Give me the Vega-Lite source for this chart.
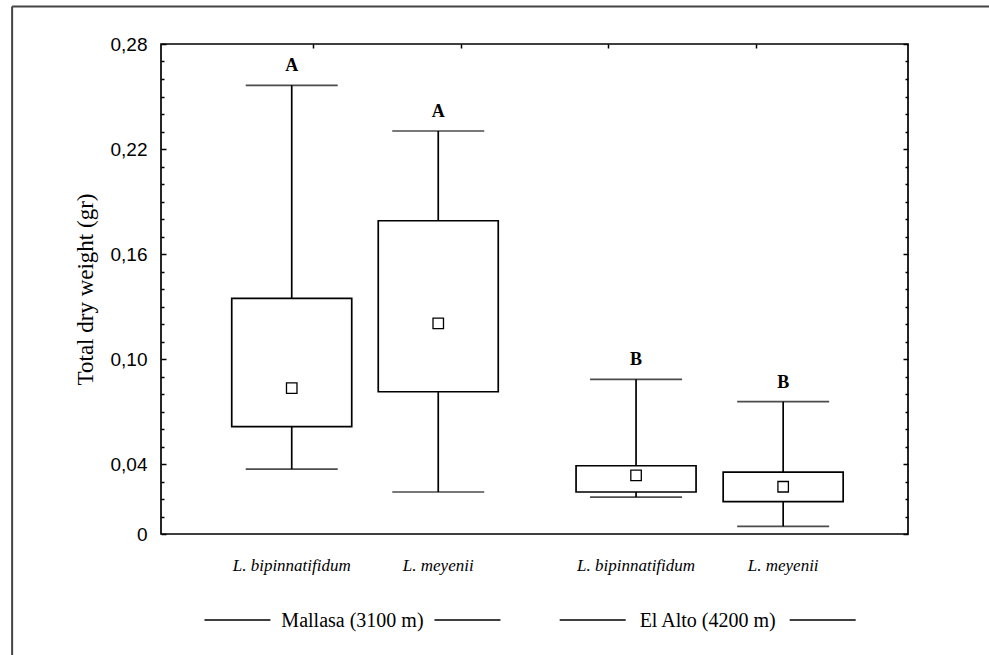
{
  "$schema": "https://vega.github.io/schema/vega-lite/v6.json",
  "width": 747,
  "height": 490,
  "autosize": "none",
  "padding": {"left": 161, "top": 44, "right": 81, "bottom": 121},
  "background": "white",
  "config": {
    "view": {"stroke": "black", "strokeWidth": 1.7},
    "axis": {"grid": false, "domain": false, "tickColor": "black", "tickWidth": 1.5}
  },
  "datasets": {
    "boxes": [
      {"site": "Mallasa (3100 m)", "species": "L. bipinnatifidum", "pos": 0.853, "min": 0.0371, "q1": 0.0613, "mid": 0.0834, "q3": 0.1347, "max": 0.2564, "sig": "A"},
      {"site": "Mallasa (3100 m)", "species": "L. meyenii", "pos": 1.847, "min": 0.024, "q1": 0.0813, "mid": 0.1204, "q3": 0.179, "max": 0.2303, "sig": "A"},
      {"site": "El Alto (4200 m)", "species": "L. bipinnatifidum", "pos": 3.189, "min": 0.0211, "q1": 0.024, "mid": 0.0335, "q3": 0.039, "max": 0.0884, "sig": "B"},
      {"site": "El Alto (4200 m)", "species": "L. meyenii", "pos": 4.187, "min": 0.0044, "q1": 0.0185, "mid": 0.027, "q3": 0.0354, "max": 0.0756, "sig": "B"}
    ],
    "groups": [
      {"site": "Mallasa (3100 m)", "gpos": 1.265},
      {"site": "El Alto (4200 m)", "gpos": 3.675}
    ]
  },
  "layer": [
    {
      "data": {"name": "boxes"},
      "mark": {"type": "rule", "color": "black", "strokeWidth": 1.7},
      "encoding": {
        "x": {"field": "pos", "type": "quantitative", "scale": {"domain": [0, 5], "nice": false, "zero": false},
          "axis": {"orient": "top", "values": [1, 2, 3, 4], "labels": false, "tickSize": -4, "title": null}},
        "y": {"field": "min", "type": "quantitative", "scale": {"domain": [0, 0.28], "nice": false},
          "axis": {
            "orient": "left",
            "values": [0,0.01,0.02,0.03,0.04,0.05,0.06,0.07,0.08,0.09,0.1,0.11,0.12,0.13,0.14,0.15,0.16,0.17,0.18,0.19,0.2,0.21,0.22,0.23,0.24,0.25,0.26,0.27,0.28],
            "labelExpr": "indexof([0,0.04,0.1,0.16,0.22,0.28], datum.value) >= 0 ? (datum.value == 0 ? '0' : replace(format(datum.value, '.2f'), '.', ',')) : ''",
            "tickSize": {"condition": {"test": "indexof([0,0.04,0.1,0.16,0.22,0.28], datum.value) >= 0", "value": -5}, "value": -3},
            "labelPadding": 19,
            "labelFont": "Liberation Sans",
            "labelFontSize": 19,
            "labelColor": "black",
            "title": "Total dry weight (gr)",
            "titleFont": "Liberation Serif",
            "titleFontSize": 23,
            "titleFontWeight": "normal",
            "titleColor": "black",
            "titlePadding": 13
          }},
        "y2": {"field": "max"}
      }
    },
    {
      "data": {"name": "boxes"},
      "mark": {"type": "tick", "orient": "horizontal", "color": "black", "size": 92, "thickness": 1.7},
      "encoding": {
        "x": {"field": "pos", "type": "quantitative", "axis": null},
        "y": {"field": "max", "type": "quantitative",
          "axis": {
            "orient": "right",
            "values": [0,0.01,0.02,0.03,0.04,0.05,0.06,0.07,0.08,0.09,0.1,0.11,0.12,0.13,0.14,0.15,0.16,0.17,0.18,0.19,0.2,0.21,0.22,0.23,0.24,0.25,0.26,0.27,0.28],
            "labels": false,
            "tickSize": {"condition": {"test": "indexof([0,0.04,0.1,0.16,0.22,0.28], datum.value) >= 0", "value": -5}, "value": -3},
            "title": null
          }}
      }
    },
    {
      "data": {"name": "boxes"},
      "mark": {"type": "tick", "orient": "horizontal", "color": "black", "size": 92, "thickness": 1.7},
      "encoding": {
        "x": {"field": "pos", "type": "quantitative", "axis": null},
        "y": {"field": "min", "type": "quantitative", "axis": null}
      }
    },
    {
      "data": {"name": "boxes"},
      "mark": {"type": "bar", "size": 120, "fill": "white", "stroke": "black", "strokeWidth": 1.7},
      "encoding": {
        "x": {"field": "pos", "type": "quantitative", "axis": null},
        "y": {"field": "q1", "type": "quantitative", "axis": null},
        "y2": {"field": "q3"}
      }
    },
    {
      "data": {"name": "boxes"},
      "mark": {"type": "point", "shape": "square", "size": 110, "fill": "white", "filled": true, "stroke": "black", "strokeWidth": 1.3, "opacity": 1},
      "encoding": {
        "x": {"field": "pos", "type": "quantitative", "axis": null},
        "y": {"field": "mid", "type": "quantitative", "axis": null}
      }
    },
    {
      "data": {"name": "boxes"},
      "mark": {"type": "text", "font": "Liberation Serif", "fontWeight": "bold", "fontSize": 18, "baseline": "alphabetic", "dy": -14, "color": "black"},
      "encoding": {
        "x": {"field": "pos", "type": "quantitative", "axis": null},
        "y": {"field": "max", "type": "quantitative", "axis": null},
        "text": {"field": "sig"}
      }
    },
    {
      "data": {"name": "boxes"},
      "mark": {"type": "text", "font": "Liberation Serif", "fontStyle": "italic", "fontSize": 17, "baseline": "alphabetic", "dy": 37, "color": "black"},
      "encoding": {
        "x": {"field": "pos", "type": "quantitative", "axis": null},
        "y": {"datum": 0, "type": "quantitative", "axis": null},
        "text": {"field": "species"}
      }
    },
    {
      "data": {"name": "groups"},
      "mark": {"type": "text", "font": "Liberation Serif", "fontSize": 20, "baseline": "alphabetic", "dy": 93, "color": "black"},
      "encoding": {
        "x": {"field": "gpos", "type": "quantitative", "axis": null},
        "y": {"datum": 0, "type": "quantitative", "axis": null},
        "text": {"field": "site"}
      }
    },
    {
      "data": {"name": "groups"},
      "mark": {"type": "rule", "color": "black", "strokeWidth": 1.5, "xOffset": -148, "x2Offset": -82, "yOffset": 86},
      "encoding": {
        "x": {"field": "gpos", "type": "quantitative", "axis": null},
        "x2": {"field": "gpos"},
        "y": {"datum": 0, "type": "quantitative", "axis": null}
      }
    },
    {
      "data": {"name": "groups"},
      "mark": {"type": "rule", "color": "black", "strokeWidth": 1.5, "xOffset": 82, "x2Offset": 148, "yOffset": 86},
      "encoding": {
        "x": {"field": "gpos", "type": "quantitative", "axis": null},
        "x2": {"field": "gpos"},
        "y": {"datum": 0, "type": "quantitative", "axis": null}
      }
    },
    {
      "data": {"values": [{}]},
      "mark": {"type": "rule", "color": "#444444", "strokeWidth": 2},
      "encoding": {
        "x": {"datum": -1.044, "type": "quantitative", "axis": null},
        "y": {"datum": 0.3014, "type": "quantitative", "axis": null},
        "y2": {"datum": -0.08}
      }
    },
    {
      "data": {"values": [{}]},
      "mark": {"type": "rule", "color": "#444444", "strokeWidth": 2},
      "encoding": {
        "x": {"datum": -1.044, "type": "quantitative", "axis": null},
        "x2": {"datum": 5.6},
        "y": {"datum": 0.3014, "type": "quantitative", "axis": null}
      }
    }
  ],
  "resolve": {"axis": {"x": "independent", "y": "independent"}}
}
